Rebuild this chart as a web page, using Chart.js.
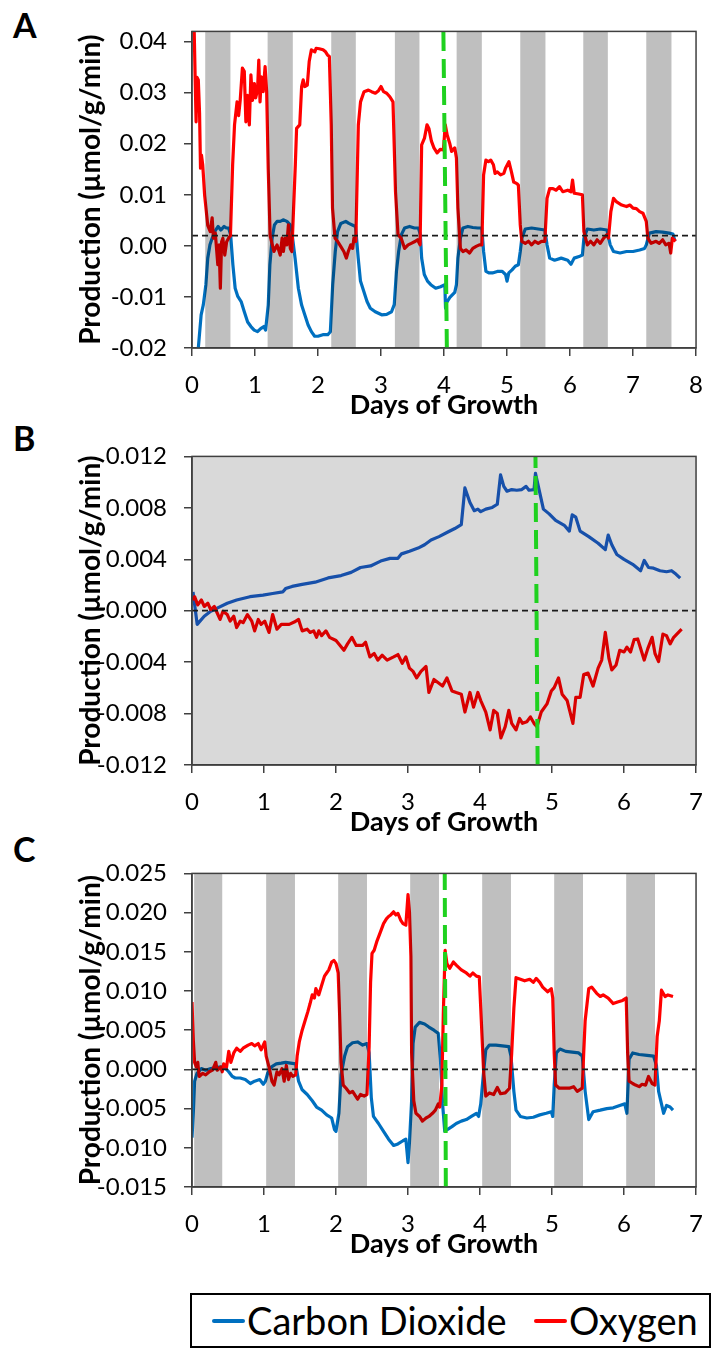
<!DOCTYPE html>
<html>
<head>
<meta charset="utf-8">
<script src="https://cdn.jsdelivr.net/npm/chart.js@4.4.1/dist/chart.umd.min.js"></script>
<style>
  body { margin: 0; width: 718px; height: 1350px; background: #fff; position: relative; font-family: Lato, sans-serif; overflow: hidden; }
  canvas { position: absolute; left: 0; }
  .panel-label { position: absolute; left: 13px; font-weight: bold; font-size: 34px; line-height: 34px; color: #000; }
  #legend { position: absolute; left: 190px; top: 1293px; width: 521px; height: 55px; box-sizing: border-box; border: 2px solid #000; }
  #legend .mark { position: absolute; top: 24px; width: 33px; height: 4px; border-radius: 2px; }
  #legend .txt { position: absolute; top: 0; line-height: 51px; font-size: 38px; color: #000; }
</style>
</head>
<body>
<div class="panel-label" style="top:8px">A</div>
<div class="panel-label" style="top:421px">B</div>
<div class="panel-label" style="top:832px">C</div>
<canvas id="chartA" width="718" height="425" style="top:0px"></canvas>
<canvas id="chartB" width="718" height="417" style="top:425px"></canvas>
<canvas id="chartC" width="718" height="422" style="top:842px"></canvas>
<div id="legend">
  <span class="mark" style="left:20px;background:#0070c0"></span>
  <span class="txt" style="left:55px">Carbon Dioxide</span>
  <span class="mark" style="left:342px;background:#ff0000"></span>
  <span class="txt" style="left:377px">Oxygen</span>
</div>
<script>
// --- Data: [day, production (µmol/g/min)] ---

// Panel A
const co2A = [[0.09,-0.0215],[0.145,-0.0135],[0.18,-0.0115],[0.22,-0.0076],[0.25,-0.0024],[0.285,0.0002],[0.32,0.0015],[0.36,0.0028],[0.415,0.0038],[0.457,0.0031],[0.51,0.0038],[0.545,0.0035],[0.58,0.0035],[0.613,0.0022],
  [0.649,-0.0037],[0.685,-0.0083],[0.727,-0.0099],[0.78,-0.0109],[0.83,-0.0129],[0.883,-0.0149],[0.935,-0.0158],[0.987,-0.0165],[1.04,-0.0168],[1.09,-0.0162],[1.14,-0.0158],[1.168,-0.0165],
  [1.21,-0.0116],[1.236,-0.0037],[1.272,0.0015],[1.308,0.0041],[1.35,0.0048],[1.40,0.0048],[1.454,0.0051],[1.506,0.0048],[1.558,0.0041],[1.584,0.0028],
  [1.636,-0.0024],[1.688,-0.0083],[1.74,-0.0116],[1.79,-0.0135],[1.843,-0.0155],[1.895,-0.0168],[1.947,-0.0177],[2.0,-0.0177],[2.077,-0.0174],[2.155,-0.0174],[2.196,-0.0168],
  [2.233,-0.0076],[2.274,-0.0011],[2.31,0.0028],[2.362,0.0044],[2.44,0.0048],[2.49,0.0044],[2.544,0.0041],[2.596,0.0038],
  [2.638,-0.0024],[2.674,-0.0069],[2.726,-0.0089],[2.778,-0.0109],[2.83,-0.0122],[2.908,-0.0129],[3.01,-0.0135],[3.09,-0.0134],[3.167,-0.0129],[3.21,-0.0115],
  [3.245,-0.005],[3.28,-0.0011],[3.323,0.0022],[3.375,0.0035],[3.453,0.0038],[3.53,0.0035],[3.594,0.0035],[3.624,0.0022],
  [3.645,-0.0024],[3.687,-0.0056],[3.738,-0.0069],[3.79,-0.0076],[3.868,-0.0083],[3.946,-0.008],[4.013,-0.0076],[4.024,-0.0122],[4.04,-0.0111],[4.093,-0.0101],[4.17,-0.0091],[4.197,-0.0076],
  [4.22,-0.0024],[4.26,0.0015],[4.30,0.0035],[4.38,0.0038],[4.457,0.0036],[4.535,0.0035],[4.60,0.0035],
  [4.628,-0.0011],[4.665,-0.005],[4.717,-0.0053],[4.768,-0.0053],[4.846,-0.005],[4.924,-0.005],[4.976,-0.0056],[5.0,-0.0069],[5.028,-0.0053],[5.08,-0.0047],[5.13,-0.004],[5.18,-0.0037],
  [5.21,-0.0011],[5.235,0.0015],[5.29,0.0033],[5.39,0.0035],[5.495,0.0033],[5.60,0.0031],
  [5.635,0.0002],[5.677,-0.0024],[5.755,-0.0028],[5.86,-0.0024],[5.963,-0.0028],[6.015,-0.0036],[6.066,-0.0024],[6.144,-0.0021],[6.196,-0.0018],
  [6.22,0.0015],[6.274,0.0033],[6.378,0.0031],[6.48,0.0033],[6.586,0.0031],
  [6.638,0.0002],[6.69,-0.0011],[6.794,-0.0014],[6.897,-0.0011],[7.0,-0.0011],[7.105,-0.0008],[7.183,-0.0005],[7.21,0.0002],
  [7.26,0.0025],[7.365,0.0028],[7.47,0.0027],[7.572,0.0025],[7.634,0.0023],[7.666,0.0009]];
const o2A = [[0.03,0.045],[0.05,0.033],[0.065,0.0243],[0.08,0.033],[0.10,0.0325],[0.12,0.026],[0.135,0.0152],[0.15,0.0178],[0.17,0.0159],[0.20,0.010],[0.25,0.004],[0.29,0.0028],[0.32,0.0055],[0.34,0.0015],[0.37,0.0025],[0.41,-0.0037],[0.43,0.0002],[0.45,-0.0083],[0.47,0.0008],[0.49,0.0015],[0.52,-0.0018],[0.55,0.0008],[0.58,0.0015],[0.61,0.0020],
  [0.645,0.0159],[0.675,0.0237],[0.715,0.0282],[0.74,0.0255],[0.765,0.0285],[0.80,0.0348],[0.83,0.0342],[0.855,0.0243],[0.88,0.0295],[0.91,0.0237],[0.935,0.0335],[0.96,0.0285],[0.99,0.0318],[1.01,0.029],[1.04,0.0305],[1.06,0.0364],[1.08,0.0282],[1.10,0.0331],[1.13,0.0302],[1.16,0.0351],[1.185,0.0302],
  [1.21,0.015],[1.24,0.002],[1.30,-0.0011],[1.35,0.0002],[1.40,-0.0018],[1.43,0.0015],[1.45,-0.0011],[1.48,0.0015],[1.505,0.0002],[1.53,0.0041],[1.56,-0.0005],[1.585,-0.0011],
  [1.64,0.0159],[1.66,0.023],[1.71,0.0237],[1.74,0.0312],[1.765,0.0325],[1.79,0.0312],[1.83,0.0315],[1.86,0.0361],[1.895,0.0384],[1.95,0.038],[1.97,0.0387],[2.02,0.0386],[2.08,0.0384],[2.12,0.038],[2.15,0.0374],[2.18,0.0371],
  [2.21,0.0237],[2.23,0.0074],[2.27,0.0015],[2.31,0.0009],[2.36,-0.0001],[2.41,-0.0011],[2.45,-0.0024],[2.48,-0.0011],[2.52,0.0002],[2.55,-0.0005],[2.57,0.0015],[2.60,0.0009],
  [2.64,0.0237],[2.675,0.0282],[2.73,0.0302],[2.80,0.0305],[2.85,0.0302],[2.91,0.0299],[2.96,0.0304],[3.00,0.0312],[3.04,0.0302],[3.09,0.0299],[3.14,0.0292],[3.19,0.0282],
  [3.23,0.0106],[3.27,0.0022],[3.32,0.0015],[3.375,-0.0005],[3.43,0.0002],[3.48,0.0005],[3.53,0.0008],[3.58,0.0012],[3.62,0.0002],
  [3.645,0.0198],[3.69,0.0211],[3.73,0.0237],[3.76,0.023],[3.80,0.0205],[3.84,0.0192],[3.89,0.0182],[3.94,0.0189],[3.99,0.0188],[4.02,0.0237],[4.05,0.0217],[4.09,0.0201],[4.12,0.0185],[4.17,0.0192],[4.197,0.0172],
  [4.22,0.0074],[4.26,-0.0005],[4.30,-0.0011],[4.35,-0.0008],[4.405,-0.0014],[4.457,-0.0005],[4.51,-0.0001],[4.56,0.0002],[4.60,0.0002],
  [4.628,0.0139],[4.665,0.0168],[4.706,0.0165],[4.742,0.0168],[4.784,0.0159],[4.81,0.0142],[4.846,0.0145],[4.898,0.0139],[4.95,0.0142],[4.976,0.0152],[5.03,0.0165],[5.07,0.0145],[5.106,0.0125],[5.157,0.0122],[5.18,0.0119],
  [5.21,0.0041],[5.235,0.0009],[5.29,0.0005],[5.34,0.0009],[5.39,0.0002],[5.443,0.0009],[5.495,0.0005],[5.547,0.0009],[5.60,0.0009],
  [5.635,0.0093],[5.677,0.0112],[5.73,0.0112],[5.78,0.0109],[5.833,0.0116],[5.885,0.0106],[5.963,0.0109],[6.015,0.0106],[6.04,0.0129],[6.066,0.0103],[6.118,0.0102],[6.196,0.010],
  [6.22,0.0028],[6.274,0.0002],[6.326,0.0009],[6.378,0.0002],[6.43,0.0012],[6.48,0.0005],[6.534,0.0015],[6.586,0.0022],[6.61,0.0015],
  [6.648,0.0067],[6.69,0.0093],[6.74,0.0086],[6.82,0.008],[6.897,0.0077],[6.95,0.008],[7.0,0.0074],[7.053,0.0073],[7.105,0.0067],[7.157,0.0064],[7.21,0.0048],
  [7.235,0.0015],[7.287,0.0005],[7.365,0.0009],[7.416,0.0005],[7.47,0.0012],[7.52,0.0002],[7.572,0.0005],[7.598,-0.0014],[7.624,0.0015],[7.676,0.0009]];
const darkA = [[0.21,0.61],[1.2,1.6],[2.21,2.6],[3.22,3.61],[4.2,4.6],[5.21,5.61],[6.21,6.6],[7.21,7.61]];
const baselineA = 0.002;
const switchA = [[4.045,-0.02],[3.99,0.042]];
const xTicksA = [0,1,2,3,4,5,6,7,8];
const yTicksA = [-0.02,-0.01,0,0.01,0.02,0.03,0.04];
const yLabelsA = ['-0.02','-0.01','0.00','0.01','0.02','0.03','0.04'];

// Panel B
const co2B = [[0.014,0.00146],[0.072,-0.00106],[0.17,-0.00043],[0.26,-0.00005],[0.35,0.0002],[0.49,0.00058],[0.62,0.00083],[0.805,0.00109],[0.986,0.00121],[1.12,0.00134],[1.26,0.00146],[1.30,0.00172],[1.39,0.00189],[1.53,0.00205],[1.71,0.00222],[1.89,0.00255],[2.07,0.00273],[2.21,0.00298],[2.34,0.00336],[2.48,0.00348],[2.62,0.00386],[2.75,0.00407],[2.86,0.00407],[2.91,0.00442],[3.02,0.00462],[3.14,0.00487],[3.23,0.00513],[3.32,0.0055],[3.43,0.00576],[3.56,0.00614],[3.65,0.00639],[3.74,0.00669],[3.79,0.00955],[3.86,0.00841],[3.92,0.00778],[3.97,0.0079],[4.01,0.0077],[4.08,0.0079],[4.17,0.00803],[4.24,0.00828],[4.285,0.01056],[4.33,0.00967],[4.375,0.00929],[4.44,0.00942],[4.51,0.00937],[4.58,0.00942],[4.64,0.00967],[4.68,0.00937],[4.75,0.00942],[4.77,0.01068],[4.83,0.00917],[4.88,0.0079],[4.96,0.00753],[5.05,0.00702],[5.17,0.00664],[5.24,0.00619],[5.28,0.00745],[5.33,0.00727],[5.39,0.00619],[5.51,0.00576],[5.64,0.00525],[5.74,0.00475],[5.78,0.00588],[5.83,0.00513],[5.90,0.00437],[6.0,0.00399],[6.12,0.00361],[6.23,0.00311],[6.28,0.00391],[6.34,0.00336],[6.41,0.00331],[6.50,0.00311],[6.59,0.00303],[6.66,0.00311],[6.72,0.00285],[6.78,0.00253]];
const o2B = [[0.0,0.00083],[0.036,0.00109],[0.08,0.00045],[0.13,0.00083],[0.17,0.00033],[0.22,0.00058],[0.26,0.00008],[0.31,0.00033],[0.35,-0.00018],[0.39,-0.00068],[0.43,-0.00005],[0.49,-0.0003],[0.53,-0.00081],[0.58,-0.00043],[0.62,-0.00131],[0.67,-0.00081],[0.71,-0.00093],[0.77,-0.0003],[0.83,-0.00081],[0.87,-0.00157],[0.92,-0.00068],[0.96,-0.00106],[1.01,-0.00081],[1.07,-0.00169],[1.12,-0.0003],[1.18,-0.00144],[1.24,-0.00106],[1.35,-0.00106],[1.42,-0.00088],[1.48,-0.00068],[1.53,-0.00157],[1.60,-0.00144],[1.64,-0.00169],[1.69,-0.00157],[1.73,-0.00207],[1.76,-0.00157],[1.80,-0.00194],[1.86,-0.00157],[1.91,-0.00207],[2.0,-0.00232],[2.11,-0.00308],[2.16,-0.00258],[2.22,-0.00207],[2.28,-0.0027],[2.37,-0.0027],[2.41,-0.00245],[2.47,-0.00359],[2.53,-0.00333],[2.58,-0.00384],[2.64,-0.00346],[2.71,-0.00384],[2.80,-0.00359],[2.86,-0.00341],[2.92,-0.00409],[2.97,-0.00359],[3.02,-0.00447],[3.07,-0.00472],[3.12,-0.00523],[3.18,-0.00472],[3.25,-0.00434],[3.29,-0.00636],[3.36,-0.00535],[3.42,-0.0056],[3.48,-0.00586],[3.54,-0.00523],[3.61,-0.00624],[3.67,-0.00636],[3.74,-0.00649],[3.79,-0.00788],[3.86,-0.00636],[3.91,-0.0075],[3.97,-0.00636],[4.01,-0.00699],[4.08,-0.00788],[4.14,-0.00927],[4.19,-0.00775],[4.24,-0.008],[4.29,-0.0099],[4.35,-0.00902],[4.40,-0.00775],[4.44,-0.00876],[4.50,-0.00927],[4.55,-0.00838],[4.59,-0.00876],[4.65,-0.00864],[4.70,-0.00826],[4.75,-0.00876],[4.79,-0.00902],[4.85,-0.00788],[4.93,-0.00725],[4.99,-0.00624],[5.03,-0.00598],[5.09,-0.00523],[5.14,-0.00649],[5.21,-0.00699],[5.29,-0.00876],[5.33,-0.00674],[5.39,-0.00674],[5.44,-0.00497],[5.50,-0.00485],[5.57,-0.00586],[5.64,-0.00447],[5.69,-0.00384],[5.74,-0.00169],[5.79,-0.00371],[5.83,-0.0046],[5.89,-0.00422],[5.94,-0.00308],[6.0,-0.00321],[6.04,-0.00283],[6.09,-0.00321],[6.14,-0.00225],[6.19,-0.0022],[6.28,-0.00384],[6.33,-0.00295],[6.39,-0.00207],[6.43,-0.00333],[6.48,-0.00396],[6.54,-0.00182],[6.59,-0.00194],[6.64,-0.00258],[6.69,-0.00207],[6.80,-0.00144]];
const darkB = [[0,7]];
const baselineB = 0;
const switchB = [[4.80,-0.012],[4.77,0.012]];
const xTicksB = [0,1,2,3,4,5,6,7];
const yTicksB = [-0.012,-0.008,-0.004,0,0.004,0.008,0.012];
const yLabelsB = ['-0.012','-0.008','-0.004','0.000','0.004','0.008','0.012'];

// Panel C
const co2C = [[0,-0.0087],[0.02,-0.0052],[0.036,-0.0015],[0.07,-0.0005],[0.13,0.0001],[0.19,-0.0001],[0.26,0.0001],[0.33,0.0002],[0.38,0.0003],[0.42,0.0003],[0.47,0.0001],[0.51,-0.0003],[0.56,-0.0009],[0.60,-0.0011],[0.67,-0.0011],[0.74,-0.0013],[0.81,-0.0018],[0.87,-0.0015],[0.94,-0.0013],[0.99,-0.0019],[1.02,-0.0015],[1.05,-0.0005],[1.10,0.0003],[1.17,0.0007],[1.24,0.0008],[1.30,0.0009],[1.37,0.0008],[1.44,0.0007],
  [1.48,-0.0015],[1.53,-0.0026],[1.60,-0.0032],[1.67,-0.004],[1.73,-0.0048],[1.80,-0.0052],[1.87,-0.0058],[1.94,-0.0062],[1.98,-0.0077],[2.0,-0.0079],[2.04,-0.0056],[2.07,-0.0007],[2.12,0.0017],[2.16,0.0029],[2.23,0.0034],[2.30,0.0035],[2.37,0.0031],[2.43,0.0033],[2.46,0.0021],
  [2.49,-0.0036],[2.52,-0.006],[2.59,-0.0069],[2.66,-0.0079],[2.73,-0.0089],[2.80,-0.0097],[2.86,-0.0095],[2.93,-0.0091],[2.97,-0.0089],[3.0,-0.0119],[3.02,-0.0093],[3.05,-0.004],[3.07,0.0033],[3.10,0.0054],[3.16,0.006],[3.23,0.0058],[3.29,0.0054],[3.36,0.005],[3.42,0.0046],[3.45,0.0013],
  [3.48,-0.0044],[3.51,-0.0079],[3.54,-0.0077],[3.61,-0.0073],[3.67,-0.0069],[3.74,-0.0066],[3.81,-0.0064],[3.88,-0.006],[3.95,-0.0056],[3.98,-0.006],[4.01,-0.0044],[4.05,-0.0003],[4.08,0.0025],[4.13,0.0031],[4.22,0.0031],[4.31,0.003],[4.40,0.0029],[4.43,0.0017],
  [4.47,-0.0028],[4.50,-0.0052],[4.56,-0.006],[4.65,-0.0062],[4.74,-0.0061],[4.83,-0.0058],[4.92,-0.0056],[4.99,-0.0054],[5.01,-0.006],[5.03,-0.002],[5.06,0.0021],[5.11,0.0026],[5.19,0.0023],[5.28,0.0022],[5.37,0.0021],[5.42,0.0017],
  [5.46,-0.0028],[5.51,-0.0064],[5.57,-0.0054],[5.67,-0.0052],[5.76,-0.005],[5.85,-0.0049],[5.94,-0.0046],[6.01,-0.0044],[6.04,-0.0056],[6.07,0.0013],[6.12,0.0021],[6.21,0.0019],[6.32,0.0018],[6.41,0.0017],[6.45,0.0005],
  [6.48,-0.0028],[6.55,-0.0056],[6.59,-0.0046],[6.64,-0.0048],[6.68,-0.0052]];
const o2C = [[0,0.0086],[0.018,0.0038],[0.036,0.0009],[0.06,0.0003],[0.08,0.0009],[0.10,-0.0009],[0.15,-0.0005],[0.19,-0.0007],[0.24,-0.0003],[0.285,-0.0001],[0.33,0.0009],[0.35,-0.0001],[0.40,0.0003],[0.42,-0.0003],[0.44,0.0007],[0.48,0.0003],
  [0.51,0.0023],[0.54,0.0009],[0.58,0.0021],[0.62,0.0027],[0.67,0.0023],[0.71,0.0027],[0.78,0.0031],[0.83,0.0033],[0.87,0.003],[0.92,0.0033],[0.96,0.0025],[1.01,0.0035],[1.03,0.0017],[1.07,0.0003],[1.11,-0.0015],[1.14,-0.002],[1.18,-0.0003],[1.21,-0.0007],[1.25,0.0001],[1.28,-0.0015],[1.31,0.0005],[1.34,-0.0013],[1.37,-0.0005],[1.40,-0.0009],[1.44,-0.0007],
  [1.46,0.0017],[1.49,0.0035],[1.53,0.005],[1.57,0.0062],[1.61,0.0074],[1.64,0.0084],[1.67,0.0095],[1.70,0.0091],[1.72,0.0103],[1.76,0.0095],[1.80,0.0107],[1.84,0.0119],[1.87,0.0123],[1.90,0.0127],[1.94,0.0137],[1.97,0.0139],[2.0,0.0135],[2.03,0.0123],
  [2.05,0.007],[2.07,0.0009],[2.10,-0.002],[2.14,-0.0024],[2.19,-0.003],[2.23,-0.0028],[2.30,-0.0038],[2.34,-0.0032],[2.39,-0.0034],[2.43,-0.0032],
  [2.46,0.0029],[2.48,0.0111],[2.50,0.0148],[2.53,0.0152],[2.57,0.0164],[2.62,0.0176],[2.66,0.0186],[2.70,0.0192],[2.73,0.0195],[2.76,0.0197],[2.80,0.0201],[2.83,0.0197],[2.86,0.0199],[2.90,0.019],[2.93,0.0186],[2.97,0.0184],[3.0,0.0223],[3.02,0.0201],[3.04,0.0144],
  [3.05,0.0021],[3.08,-0.004],[3.11,-0.0056],[3.16,-0.006],[3.20,-0.0066],[3.25,-0.0062],[3.29,-0.006],[3.34,-0.0056],[3.38,-0.0052],[3.42,-0.0044],[3.44,-0.0048],[3.47,-0.002],
  [3.49,0.007],[3.515,0.0152],[3.54,0.0135],[3.58,0.0129],[3.63,0.0137],[3.67,0.0133],[3.74,0.0127],[3.81,0.0123],[3.86,0.0119],[3.90,0.0123],[3.95,0.0119],[3.99,0.0118],
  [4.01,0.0078],[4.05,-0.0003],[4.08,-0.0034],[4.13,-0.003],[4.19,-0.0032],[4.24,-0.0023],[4.285,-0.0031],[4.35,-0.003],[4.41,-0.0024],
  [4.44,0.0021],[4.47,0.0078],[4.50,0.0117],[4.56,0.0115],[4.62,0.0113],[4.69,0.0115],[4.74,0.0111],[4.78,0.0116],[4.83,0.0111],[4.87,0.0105],[4.94,0.0099],[4.99,0.0103],[5.01,0.0091],
  [5.03,0.0021],[5.05,-0.002],[5.10,-0.0024],[5.17,-0.0024],[5.24,-0.0024],[5.30,-0.0022],[5.35,-0.0028],[5.42,-0.0024],
  [5.44,0.0021],[5.46,0.0062],[5.51,0.0103],[5.55,0.0105],[5.62,0.0097],[5.67,0.0093],[5.71,0.0095],[5.78,0.0091],[5.85,0.0084],[5.91,0.0086],[5.98,0.0088],[6.03,0.0091],
  [6.05,0.0021],[6.07,-0.0015],[6.12,-0.0018],[6.16,-0.002],[6.21,-0.0022],[6.25,-0.0019],[6.30,-0.002],[6.34,-0.0009],[6.39,-0.0018],[6.43,-0.002],
  [6.46,0.0042],[6.49,0.0062],[6.52,0.0101],[6.57,0.0093],[6.61,0.0095],[6.68,0.0093]];
const darkC = [[0.03,0.42],[1.03,1.43],[2.03,2.43],[3.03,3.43],[4.03,4.43],[5.03,5.43],[6.03,6.43]];
const baselineC = 0;
const switchC = [[3.525,-0.015],[3.51,0.025]];
const xTicksC = [0,1,2,3,4,5,6,7];
const yTicksC = [-0.015,-0.010,-0.005,0,0.005,0.010,0.015,0.020,0.025];
const yLabelsC = ['-0.015','-0.010','-0.005','0.000','0.005','0.010','0.015','0.020','0.025'];

// --- Shared look ---
const AXIS_COLOR = '#404040';
const FONT = 'Lato';

// --- Plugin: dark periods, multiplied over the two data lines ---
const darkPeriods = {
    id: 'darkPeriods',
    afterDatasetDraw(chart, args, opts) {
        if (args.index !== 1) return; // right after the oxygen line
        const { ctx, chartArea: a, scales: { x } } = chart;
        ctx.save();
        ctx.beginPath();
        ctx.rect(a.left, a.top, a.right - a.left, a.bottom - a.top);
        ctx.clip();
        ctx.globalCompositeOperation = 'multiply';
        ctx.fillStyle = opts.color;
        opts.periods.forEach(([s, e]) => {
            const x0 = x.getPixelForValue(s);
            const x1 = x.getPixelForValue(e);
            ctx.fillRect(x0, a.top, x1 - x0, a.bottom - a.top);
        });
        ctx.restore();
    }
};

// --- Plugin: box around the plot area ---
const plotFrame = {
    id: 'plotFrame',
    afterDraw(chart) {
        const { ctx, chartArea: a } = chart;
        ctx.save();
        ctx.strokeStyle = AXIS_COLOR;
        ctx.lineWidth = 1.5;
        ctx.strokeRect(a.left, a.top, a.right - a.left, a.bottom - a.top);
        ctx.restore();
    }
};

const toPoints = (pairs) => pairs.map(([x, y]) => ({ x, y }));

// --- Build one panel ---
function makePanel(canvasId, cfg) {
    const ctx = document.getElementById(canvasId).getContext('2d');
    return new Chart(ctx, {
        type: 'line',
        data: {
            datasets: [
                { label: 'Carbon Dioxide', data: toPoints(cfg.co2), borderColor: cfg.co2Color, borderWidth: 3.2, order: 4 },
                { label: 'Oxygen', data: toPoints(cfg.o2), borderColor: '#ff0000', borderWidth: 3.2, order: 3 },
                { label: 'baseline', data: toPoints([[cfg.xMin, cfg.baseline], [cfg.xMax, cfg.baseline]]),
                  borderColor: '#1a1a1a', borderWidth: 1.8, borderDash: [6, 4], order: 2 },
                { label: 'switch', data: toPoints(cfg.switchLine), borderColor: '#1fd11f', borderWidth: 4, borderDash: [19, 8], order: 1 }
            ]
        },
        options: {
            responsive: false,
            animation: false,
            events: [],
            layout: { padding: { top: cfg.padTop, right: cfg.padRight, left: 0, bottom: 0 } },
            elements: { point: { radius: 0 }, line: { tension: 0, borderJoinStyle: 'round' } },
            datasets: { line: { clip: 0 } },
            scales: {
                x: {
                    type: 'linear',
                    min: cfg.xMin, max: cfg.xMax,
                    afterBuildTicks: (scale) => { scale.ticks = cfg.xTicks.map(v => ({ value: v })); },
                    afterFit: (scale) => { scale.height = 77; },
                    ticks: { color: '#000', padding: 15, font: { family: FONT, size: 24 }, maxRotation: 0,
                             callback: (v) => String(v) },
                    grid: { drawOnChartArea: false, drawTicks: true, tickLength: 8, color: AXIS_COLOR, lineWidth: 1.5 },
                    border: { display: true, color: AXIS_COLOR, width: 1.5 },
                    title: { display: true, text: 'Days of Growth', color: '#000',
                             font: { family: FONT, size: 27, weight: 'bold' }, padding: { top: 0, bottom: 4 } }
                },
                y: {
                    type: 'linear',
                    min: cfg.yMin, max: cfg.yMax,
                    afterBuildTicks: (scale) => { scale.ticks = cfg.yTicks.map(v => ({ value: v })); },
                    afterFit: (scale) => { scale.width = 192; },
                    ticks: { color: '#000', padding: 17, font: { family: FONT, size: 24 },
                             callback: (v, i) => cfg.yLabels[i] },
                    grid: { drawOnChartArea: false, drawTicks: true, tickLength: 8, color: AXIS_COLOR, lineWidth: 1.5 },
                    border: { display: true, color: AXIS_COLOR, width: 1.5 },
                    title: { display: true, text: 'Production (µmol/g/min)', color: '#000',
                             font: { family: FONT, size: 28, weight: 'bold' }, padding: { top: 74, bottom: 0 } }
                }
            },
            plugins: {
                legend: { display: false },
                tooltip: { enabled: false },
                darkPeriods: { periods: cfg.dark, color: cfg.darkColor }
            }
        },
        plugins: [darkPeriods, plotFrame]
    });
}

// --- Draw the three panels ---
makePanel('chartA', {
    co2: co2A, o2: o2A, co2Color: '#0070c0', dark: darkA, darkColor: '#bfbfbf',
    baseline: baselineA, switchLine: switchA,
    xMin: 0, xMax: 8, yMin: -0.02, yMax: 0.042,
    xTicks: xTicksA, yTicks: yTicksA, yLabels: yLabelsA,
    padTop: 31, padRight: 13
});
makePanel('chartB', {
    co2: co2B, o2: o2B, co2Color: '#1a5ec8', dark: darkB, darkColor: '#d9d9d9',
    baseline: baselineB, switchLine: switchB,
    xMin: 0, xMax: 7, yMin: -0.012, yMax: 0.012,
    xTicks: xTicksB, yTicks: yTicksB, yLabels: yLabelsB,
    padTop: 22, padRight: 10
});
makePanel('chartC', {
    co2: co2C, o2: o2C, co2Color: '#0070c0', dark: darkC, darkColor: '#bfbfbf',
    baseline: baselineC, switchLine: switchC,
    xMin: 0, xMax: 7, yMin: -0.015, yMax: 0.025,
    xTicks: xTicksC, yTicks: yTicksC, yLabels: yLabelsC,
    padTop: 18, padRight: 10
});
</script>
</body>
</html>
